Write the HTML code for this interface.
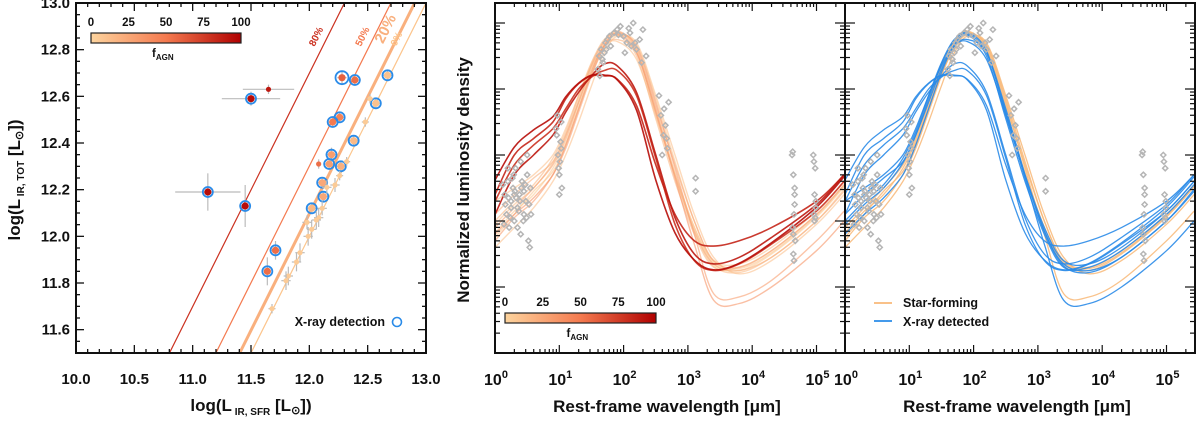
<!DOCTYPE html>
<html><head><meta charset="utf-8">
<style>
html,body{margin:0;padding:0;background:#fff;}
svg{display:block;font-family:"Liberation Sans",Arial,sans-serif;font-weight:bold;}
</style></head>
<body>
<svg id="fig" width="1200" height="421" viewBox="0 0 1200 421" xmlns="http://www.w3.org/2000/svg">
<defs>
<linearGradient id="cmap" x1="0" x2="1" y1="0" y2="0">
<stop offset="0" stop-color="#fdd49e"/><stop offset="0.5" stop-color="#f47a4f"/><stop offset="1" stop-color="#b00000"/>
</linearGradient>
<clipPath id="clipL"><rect x="76" y="3" width="350" height="350"/></clipPath>
<clipPath id="clipM"><rect x="495" y="3" width="350" height="350"/></clipPath>
<clipPath id="clipR"><rect x="845" y="3" width="350" height="350"/></clipPath>
</defs>
<g id="left"></g>
<g id="mid"></g>
<g id="right"></g>
</svg>
<script>
// ---------- Left panel data ----------
const lirSfr  = [11.65,11.50,11.13,11.45,11.71,11.64,12.28,12.39,12.67,12.57,12.26,12.20,12.38,12.19,12.17,12.27,12.08,12.11,12.12,12.02,
                 12.52,12.48,12.32,12.26,12.22,12.15,12.11,12.08,12.06,11.98,12.02,11.99,11.92,11.89,11.82,11.80,11.68];
const lirTot  = [12.63,12.59,12.19,12.13,11.94,11.85,12.68,12.67,12.69,12.57,12.51,12.49,12.41,12.35,12.31,12.30,12.31,12.23,12.17,12.12,
                 12.59,12.49,12.32,12.26,12.22,12.21,12.12,12.08,12.07,12.06,12.03,12.00,11.93,11.89,11.83,11.81,11.69];
const fAgnPts = [90,95,95,95,55,55,60,55,10,10,45,50,15,30,30,20,55,25,25,15,
                 5,5,5,5,5,5,5,5,5,5,5,5,5,5,5,5,5];
const xrayPts = [0,1,1,1,1,1,2,1,1,1,1,1,1,1,1,1,0,1,1,1,
                 0,0,0,0,0,0,0,0,0,0,0,0,0,0,0,0,0];
const xErr    = [0.22,0.25,0.28,0.05,0.04,0.03,0.04,0.05,0.04,0.04,0.04,0.04,0.04,0.05,0.04,0.04,0.02,0.04,0.04,0.04,
                 0.03,0.03,0.03,0.03,0.04,0.04,0.04,0.04,0.04,0.04,0.04,0.04,0.04,0.04,0.04,0.04,0.03];
const yErr    = [0.02,0.03,0.08,0.09,0.04,0.06,0.03,0.02,0.02,0.02,0.02,0.02,0.02,0.03,0.02,0.02,0.02,0.02,0.02,0.02,
                 0.02,0.02,0.02,0.02,0.03,0.03,0.03,0.04,0.04,0.03,0.04,0.04,0.04,0.04,0.04,0.04,0.02];
const relFrac = [0.8,0.5,0.2,0.0];
const relLabels = ["80%","50%","20%","0%"];
const xTicksL = [10.0,10.5,11.0,11.5,12.0,12.5,13.0];
const yTicksL = [11.6,11.8,12.0,12.2,12.4,12.6,12.8,13.0];
const cbTicks = [0,25,50,75,100];

// ---------- SED panel data ----------
const logLam = [0,0.3,0.6,0.9,1.1,1.3,1.5,1.7,1.9,2.2,2.5,2.8,3.1,3.4,3.8,4.3,5.0,5.43];
const sed1 = [-3.18,-2.85,-2.6,-2.2,-1.8,-1.25,-0.72,-0.3,-0.13,-0.41,-1.32,-2.27,-3.09,-3.65,-3.75,-3.5,-2.94,-2.48];
const sed2 = [-3.4,-3.1,-2.8,-2.4,-2.0,-1.5,-0.95,-0.45,-0.2,-0.3,-1.1,-2.0,-2.9,-3.55,-3.8,-3.6,-3.05,-2.6];
const sed3 = [-3.0,-2.7,-2.45,-2.05,-1.65,-1.1,-0.6,-0.25,-0.18,-0.5,-1.45,-2.4,-3.2,-3.7,-3.7,-3.45,-2.9,-2.45];
const sed4 = [-2.9,-2.6,-2.35,-2.1,-1.7,-1.2,-0.7,-0.35,-0.25,-0.45,-1.3,-2.3,-3.15,-3.65,-3.75,-3.55,-3.0,-2.55];
const sed5 = [-3.3,-2.95,-2.7,-2.3,-1.9,-1.35,-0.8,-0.35,-0.15,-0.35,-1.2,-2.2,-3.2,-4.1,-4.15,-3.9,-3.3,-2.85];
const sed6 = [-3.1,-2.8,-2.5,-2.15,-1.75,-1.2,-0.65,-0.28,-0.12,-0.38,-1.25,-2.15,-3.0,-3.6,-3.7,-3.45,-2.9,-2.45];
const sed7 = [-3.2,-2.9,-2.65,-2.3,-1.85,-1.3,-0.75,-0.33,-0.17,-0.45,-1.35,-2.35,-3.35,-4.2,-4.25,-4.0,-3.45,-3.0];
const sed8 = [-2.7,-2.5,-2.3,-2.0,-1.6,-1.1,-0.65,-0.35,-0.28,-0.55,-1.4,-2.3,-3.1,-3.6,-3.65,-3.4,-2.85,-2.4];
const sed9 = [-3.25,-2.9,-2.55,-2.25,-1.85,-1.3,-0.78,-0.38,-0.18,-0.33,-1.15,-2.1,-3.0,-3.62,-3.72,-3.48,-2.92,-2.47];
const sed10= [-3.05,-2.75,-2.5,-2.12,-1.7,-1.15,-0.62,-0.27,-0.15,-0.42,-1.38,-2.32,-3.15,-3.68,-3.78,-3.55,-3.0,-2.52];
const sed11= [-2.38,-1.88,-1.62,-1.42,-1.12,-0.91,-0.79,-0.79,-0.86,-1.32,-2.38,-3.18,-3.59,-3.74,-3.64,-3.33,-2.79,-2.33];
const sed12= [-2.6,-2.0,-1.75,-1.5,-1.15,-0.92,-0.8,-0.8,-0.85,-1.25,-2.15,-2.9,-3.3,-3.38,-3.3,-3.1,-2.7,-2.3];
const sed13= [-2.9,-2.3,-2.0,-1.7,-1.35,-1.05,-0.8,-0.62,-0.65,-1.05,-2.0,-2.95,-3.5,-3.65,-3.55,-3.25,-2.75,-2.3];
const sed14= [-2.7,-2.15,-1.85,-1.6,-1.3,-1.0,-0.82,-0.72,-0.72,-1.1,-2.05,-3.05,-3.6,-3.75,-3.65,-3.35,-2.85,-2.4];
const sedModels = [sed1,sed2,sed3,sed4,sed5,sed6,sed7,sed8,sed9,sed10,sed11,sed12,sed13,sed14];
const sedFagn   = [5,10,15,20,30,25,35,10,8,12,95,85,90,80];
const sedXray   = [0,0,1,1,0,0,1,1,0,1,1,1,1,1];
const obsLogLam = [0.15,0.18,0.2,0.22,0.25,0.28,0.3,0.32,0.35,0.38,0.4,0.42,0.45,0.48,0.5,0.52,0.55,0.2,0.3,0.4,0.5,0.35,0.25,0.45,
                   0.12,0.16,0.24,0.27,0.33,0.37,0.41,0.44,0.47,0.53,0.56,0.14,0.29,0.39,0.49,0.54,0.21,0.31,
                   0.95,0.98,1.0,1.02,1.04,0.97,1.01,1.03,0.96,0.99,1.03,1.0,
                   1.6,1.62,1.65,1.68,1.7,1.72,1.75,1.78,1.8,1.85,1.63,1.67,1.73,
                   1.9,1.95,2.0,2.05,2.1,2.15,2.2,2.25,2.3,2.35,2.02,2.12,1.92,2.08,2.18,2.28,
                   2.55,2.58,2.62,2.65,2.68,2.7,2.6,2.63,2.67,
                   3.12,3.12,
                   4.62,4.64,4.66,4.65,4.63,4.67,4.64,4.66,4.65,4.63,4.66,4.64,
                   4.95,4.97,4.99,4.96,4.98,4.97,4.99,4.96,4.98];
const obsLum    = [-2.6,-2.9,-2.4,-3.1,-2.7,-2.5,-3.0,-2.2,-2.8,-2.6,-3.2,-2.4,-2.9,-2.7,-2.3,-3.3,-2.5,-2.2,-2.6,-2.1,-2.0,-3.1,-2.8,-2.55,
                   -2.45,-2.75,-2.95,-2.35,-2.65,-2.85,-2.5,-3.0,-2.45,-2.75,-2.9,-3.05,-2.3,-2.7,-2.95,-3.4,-2.65,-2.55,
                   -1.6,-2.0,-2.3,-1.8,-2.5,-1.4,-2.1,-1.9,-1.7,-2.2,-1.5,-2.6,
                   -0.7,-0.5,-0.4,-0.6,-0.45,-0.3,-0.25,-0.2,-0.35,-0.15,-0.8,-0.55,-0.4,
                   -0.1,-0.05,-0.2,-0.3,-0.15,0.0,-0.4,-0.25,-0.1,-0.5,-0.45,-0.35,-0.18,-0.08,-0.3,-0.6,
                   -1.1,-1.4,-1.7,-1.55,-1.9,-1.2,-2.0,-1.3,-1.75,
                   -2.35,-2.55,
                   -2.0,-2.3,-2.6,-2.9,-3.1,-3.3,-3.5,-2.75,-3.6,-1.95,-2.5,-3.2,
                   -2.0,-2.6,-2.8,-2.9,-2.2,-3.0,-2.7,-2.1,-2.95];
const decTickLabels = ["0","1","2","3","4","5"];

// ---------- helpers ----------
const NS="http://www.w3.org/2000/svg";
function mk(tag, parent, attrs){const e=document.createElementNS(NS,tag);for(const k in attrs)e.setAttribute(k,attrs[k]);parent.appendChild(e);return e;}
function cmap(f){const t=Math.max(0,Math.min(1,f/100));
  const a=[253,212,158],b=[244,122,79],c=[176,0,0];let p,q,u;
  if(t<0.5){p=a;q=b;u=t/0.5;}else{p=b;q=c;u=(t-0.5)/0.5;}
  return "rgb("+p.map((v,i)=>Math.round(v+(q[i]-v)*u)).join(",")+")";}
function smoothPath(pts){let d="M"+pts[0][0].toFixed(1)+","+pts[0][1].toFixed(1);
  for(let i=0;i<pts.length-1;i++){const p0=pts[Math.max(0,i-1)],p1=pts[i],p2=pts[i+1],p3=pts[Math.min(pts.length-1,i+2)];
    const c1=[p1[0]+(p2[0]-p0[0])/6,p1[1]+(p2[1]-p0[1])/6],c2=[p2[0]-(p3[0]-p1[0])/6,p2[1]-(p3[1]-p1[1])/6];
    d+="C"+c1[0].toFixed(1)+","+c1[1].toFixed(1)+" "+c2[0].toFixed(1)+","+c2[1].toFixed(1)+" "+p2[0].toFixed(1)+","+p2[1].toFixed(1);}
  return d;}

// ---------- Left panel ----------
const L=document.getElementById('left');
const lx=v=>76+(v-10)/3*350, ly=v=>353-(v-11.5)/1.5*350;
const lg=mk('g',L,{'clip-path':'url(#clipL)'});


relFrac.forEach((f,i)=>{const off=-Math.log10(1-f);const col=f===0?'#fcc58c':cmap(f*100);
  const ln=mk('line',lg,{x1:lx(11.5-off),y1:ly(11.5),x2:lx(13.0-off),y2:ly(13.0),stroke:col,'stroke-width':f===0.2?3:1.2});
  
  
});
const lblY=[12.85,12.85,12.88,12.84];
relLabels.forEach((t,i)=>{const off=-Math.log10(1-relFrac[i]);const yv=lblY[i];const px=lx(yv-off)-(i===2?11:8);const py=ly(yv);
  const tx=mk('text',L,{x:px,y:py,fill:relFrac[i]===0?'#fcc58c':cmap(relFrac[i]*100),'font-size':i===2?15:10,'text-anchor':'middle',transform:`rotate(-63.4 ${px} ${py})`});
  tx.textContent=t;
  
  
});
for(let i=0;i<lirSfr.length;i++){const x=lx(lirSfr[i]),y=ly(lirTot[i]);
  const g=mk('g',lg,{});
  
  
  mk('line',g,{x1:lx(lirSfr[i]-xErr[i]),x2:lx(lirSfr[i]+xErr[i]),y1:y,y2:y,stroke:'#bbb','stroke-width':1.2});
  mk('line',g,{x1:x,x2:x,y1:ly(lirTot[i]-yErr[i]),y2:ly(lirTot[i]+yErr[i]),stroke:'#bbb','stroke-width':1.2});
  const small=xrayPts[i]===0;
  if(xrayPts[i]>=1){mk('circle',g,{cx:x,cy:y,r:xrayPts[i]===2?6.5:5,fill:'none',stroke:'#2a8be8','stroke-width':1.8});}
  mk('circle',g,{cx:x,cy:y,r:small?2.6:3.6,fill:cmap(fAgnPts[i])});
}
mk('rect',L,{x:76,y:3,width:350,height:350,fill:'none',stroke:'#111','stroke-width':2});
xTicksL.forEach(v=>{const t=mk('text',L,{x:lx(v),y:384,'font-size':15,'text-anchor':'middle',fill:'#111'});t.textContent=v.toFixed(1);
  });
for(let v=10;v<=13.001;v+=0.1){const x=lx(v);const maj=Math.abs(v*2-Math.round(v*2))<1e-6;const len=maj?8:4;
  mk('line',L,{x1:x,x2:x,y1:353,y2:353-len,stroke:'#111','stroke-width':1.3});mk('line',L,{x1:x,x2:x,y1:3,y2:3+len,stroke:'#111','stroke-width':1.3});}
yTicksL.forEach(v=>{const t=mk('text',L,{x:70,y:ly(v)+5,'font-size':15,'text-anchor':'end',fill:'#111'});t.textContent=v.toFixed(1);
  });
for(let v=11.5;v<=13.001;v+=0.05){const y=ly(v);const maj=Math.abs(v*5-Math.round(v*5))<1e-6;const len=maj?8:4;
  mk('line',L,{x1:76,x2:76+len,y1:y,y2:y,stroke:'#111','stroke-width':1.3});mk('line',L,{x1:426,x2:426-len,y1:y,y2:y,stroke:'#111','stroke-width':1.3});}
function colorbar(par,x0,y0,w,h,name){const g=mk('g',par,{});
  
  mk('rect',g,{x:x0,y:y0,width:w,height:h,fill:'url(#cmap)',stroke:'#222','stroke-width':1.2});
  cbTicks.forEach(v=>{const t=mk('text',g,{x:x0+v/100*w,y:y0-7,'font-size':11.5,'text-anchor':'middle',fill:'#111'});t.textContent=v;});
  const t=mk('text',g,{x:x0+w*0.5-14,y:y0+h+14,'font-size':11.5,fill:'#111'});t.innerHTML='f<tspan font-size="8" dy="3">AGN</tspan>';}
colorbar(L,91,33,150,10,'fagn-colorbar');
const xl=mk('text',L,{x:385,y:326,'font-size':12.5,'text-anchor':'end',fill:'#111'});xl.textContent='X-ray detection';

mk('circle',L,{cx:397,cy:322,r:4.5,fill:'none',stroke:'#2a8be8','stroke-width':1.6});
const xt=mk('text',L,{x:251,y:411,'font-size':17,'text-anchor':'middle',fill:'#111'});
xt.innerHTML='log(L<tspan font-size="10" dy="4"> IR, SFR</tspan><tspan dy="-4"> [L</tspan><tspan font-size="11" dy="3">⊙</tspan><tspan dy="-3">])</tspan>';

const yt=mk('text',L,{x:0,y:0,'font-size':17,'text-anchor':'middle',fill:'#111',transform:'translate(20,180) rotate(-90)'});
yt.innerHTML='log(L<tspan font-size="10" dy="4"> IR, TOT</tspan><tspan dy="-4"> [L</tspan><tspan font-size="11" dy="3">⊙</tspan><tspan dy="-3">])</tspan>';


// ---------- SED panels ----------
function sedPanel(P,x0,clip,mode){
  const sx=v=>x0+v*64.3, sy=v=>23-66*v;
  const g=mk('g',P,{'clip-path':'url(#'+clip+')'});
  
  const order=sedModels.map((m,i)=>i).sort((a,b)=>mode==='fagn'?sedFagn[a]-sedFagn[b]:sedXray[a]-sedXray[b]);
  order.forEach(i=>{const pts=logLam.map((l,j)=>[sx(l),sy(sedModels[i][j])]);
    let col,w=1.2,op=0.9;
    if(mode==='fagn'){col=cmap(sedFagn[i]);if(sedFagn[i]<50){op=0.6;w=1.4;}else{w=1.6;}}
    else{col=sedXray[i]?'#2a8be8':'#f8b878';op=sedXray[i]?0.9:0.85;w=1.3;}
    const p=mk('path',g,{d:smoothPath(pts),fill:'none',stroke:col,'stroke-width':w,opacity:op});
    });
  obsLogLam.forEach((l,i)=>{const x=sx(l),y=sy(obsLum[i]);
    const d=mk('path',g,{d:`M${x},${y-2.6}L${x+2.6},${y}L${x},${y+2.6}L${x-2.6},${y}Z`,fill:'none',stroke:'#b5b5b5','stroke-width':1.5});
    });
  mk('rect',P,{x:x0,y:3,width:350,height:350,fill:'none',stroke:'#111','stroke-width':2});
  for(let d=0;d<=5;d++){for(let k=1;k<=9;k++){const l=d+Math.log10(k);if(l>5.45)continue;const x=sx(l);const len=k===1?8:4;
    mk('line',P,{x1:x,x2:x,y1:353,y2:353-len,stroke:'#111','stroke-width':1.2});mk('line',P,{x1:x,x2:x,y1:3,y2:3+len,stroke:'#111','stroke-width':1.2});}}
  for(let d=-5;d<=0;d++){for(let k=1;k<=9;k++){const v=d+Math.log10(k);const y=sy(v);if(y<3||y>353)continue;const len=k===1?10:5;
    mk('line',P,{x1:x0,x2:x0+len,y1:y,y2:y,stroke:'#111','stroke-width':1.2});mk('line',P,{x1:x0+350,x2:x0+350-len,y1:y,y2:y,stroke:'#111','stroke-width':1.2});}}
  decTickLabels.forEach((s,i)=>{const t=mk('text',P,{x:sx(i)+1,y:385,'font-size':16,'text-anchor':'middle',fill:'#111'});
    t.innerHTML='10<tspan font-size="11" dy="-7">'+s+'</tspan>';
    });
  const xt=mk('text',P,{x:x0+172,y:412,'font-size':17,'text-anchor':'middle',fill:'#111'});xt.textContent='Rest-frame wavelength [μm]';
  
}
const M=document.getElementById('mid');
sedPanel(M,495,'clipM','fagn');
colorbar(M,505,313,151,10,'fagn-colorbar-sed');
const myt=mk('text',M,{x:0,y:0,'font-size':17,'text-anchor':'middle',fill:'#111',transform:'translate(469,180) rotate(-90)'});
myt.textContent='Normalized luminosity density';

const R=document.getElementById('right');
sedPanel(R,845,'clipR','xray');
const lgd=mk('g',R,{});

mk('line',lgd,{x1:874,x2:892,y1:303,y2:303,stroke:'#f8b878','stroke-width':1.8});
mk('line',lgd,{x1:874,x2:892,y1:321,y2:321,stroke:'#2a8be8','stroke-width':1.8});
const l1=mk('text',lgd,{x:903,y:307,'font-size':12.5,fill:'#111'});l1.textContent='Star-forming';

const l2=mk('text',lgd,{x:903,y:326,'font-size':12.5,fill:'#111'});l2.textContent='X-ray detected';

</script>
</body></html>
